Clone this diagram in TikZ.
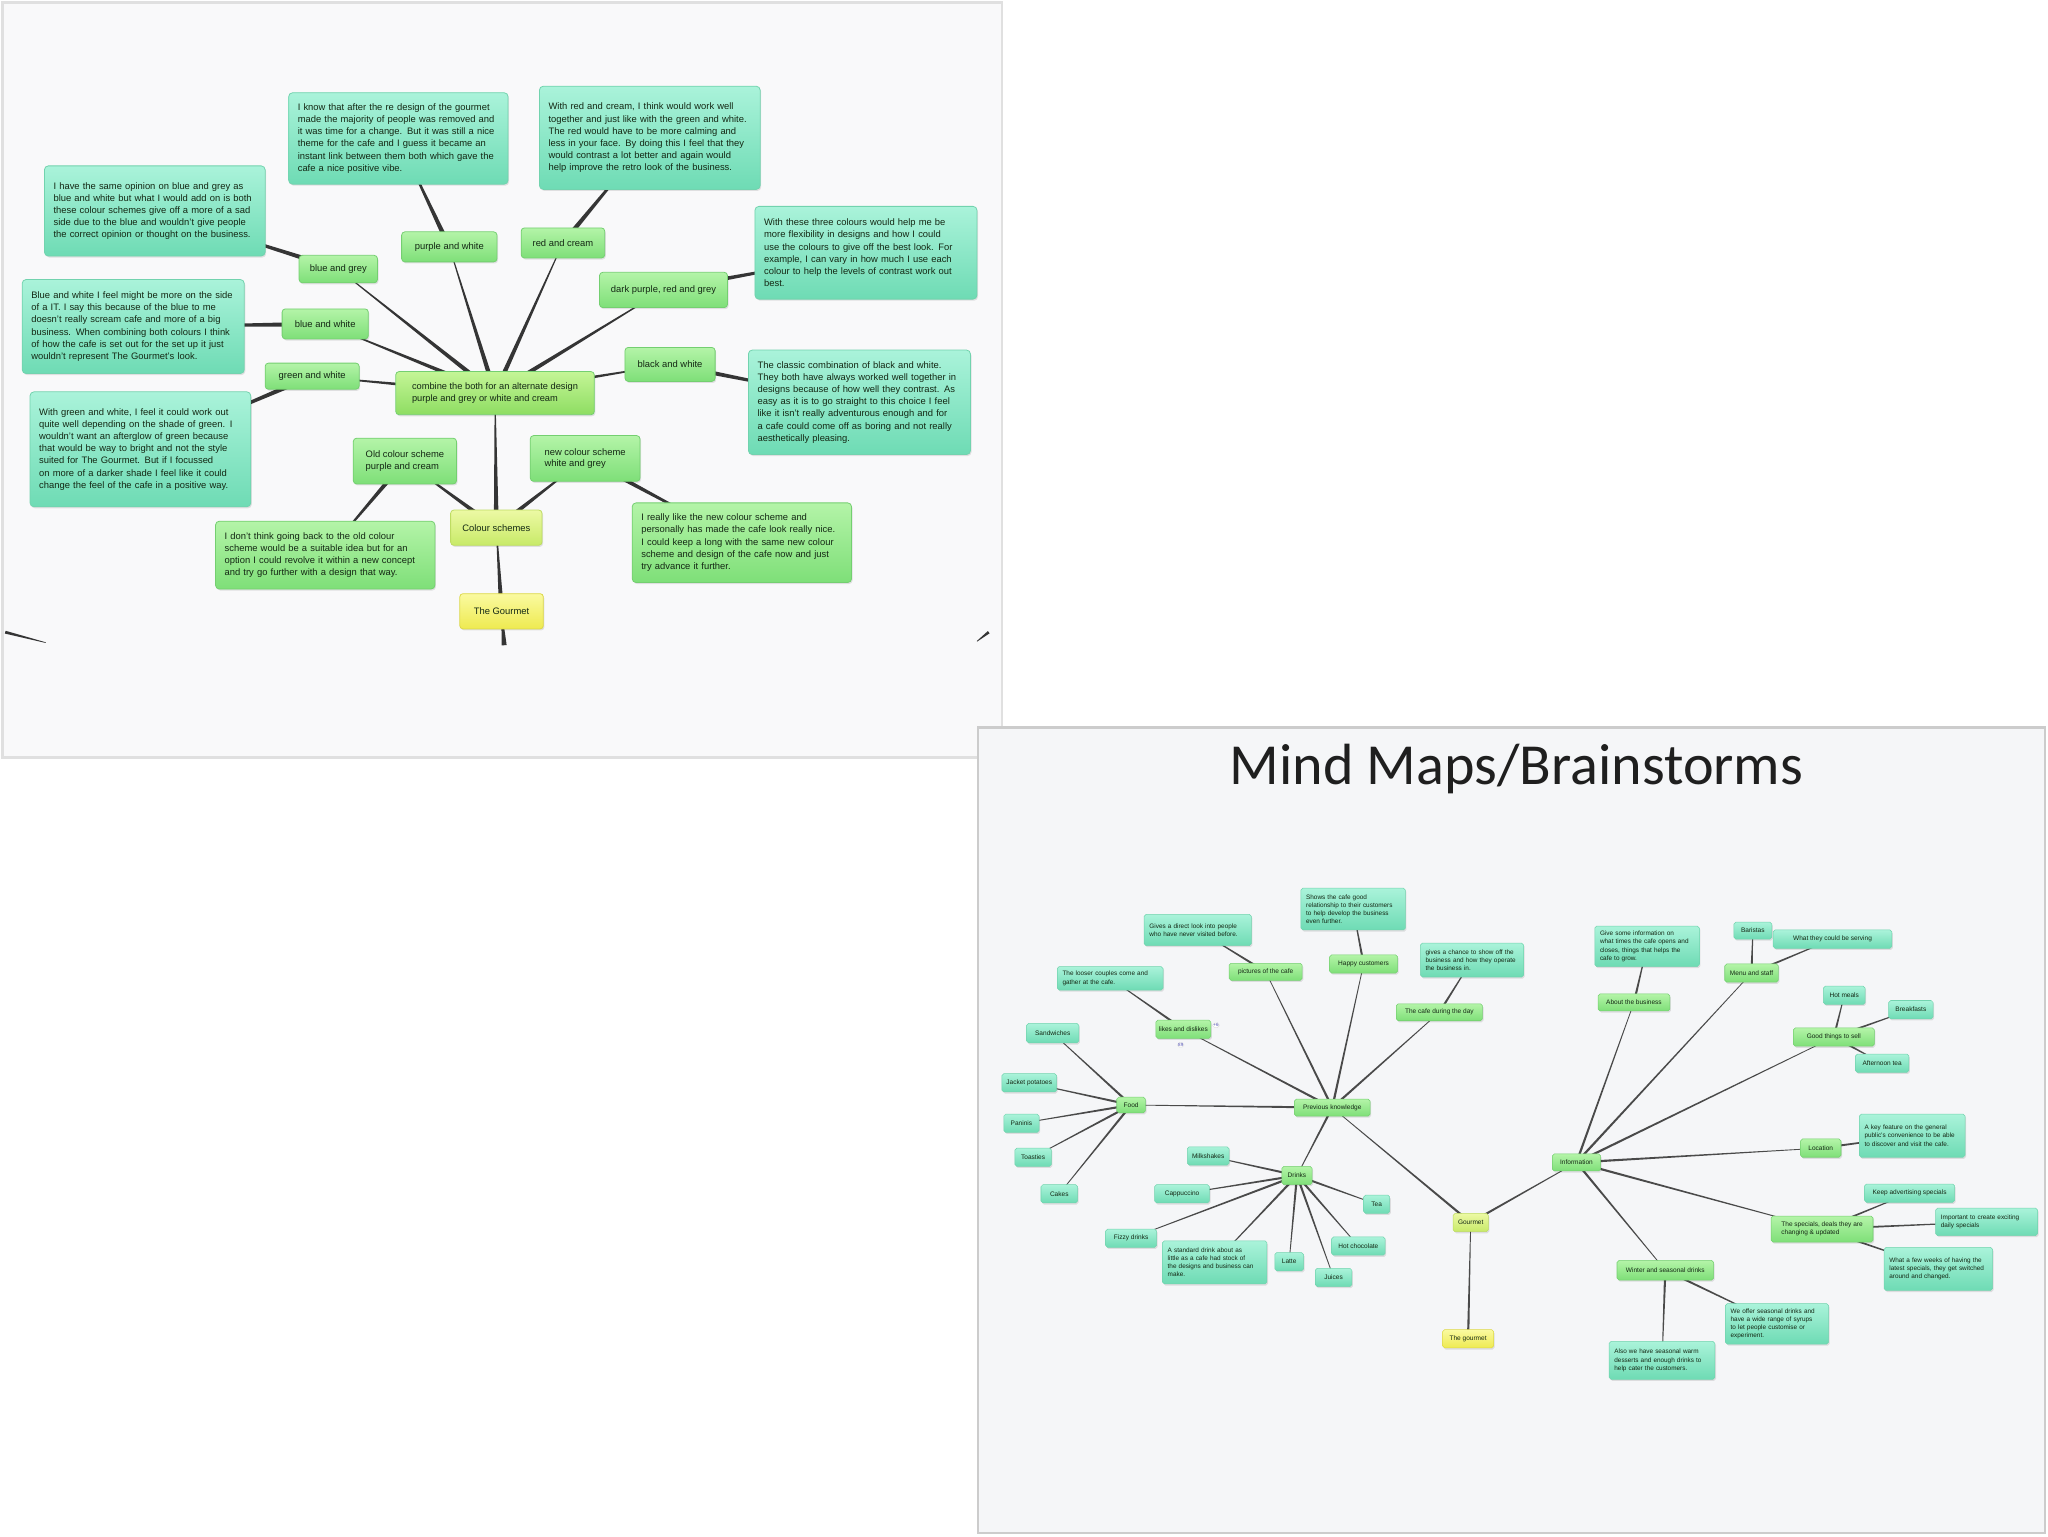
\documentclass[tikz,border=0pt]{standalone}
\usepackage{fontspec}
\setmainfont{Liberation Sans}
\newfontfamily\titlefont{Carlito}
\usetikzlibrary{calc,shadows}
\hyphenpenalty=10000
\exhyphenpenalty=10000
\pgfdeclarelayer{bg}\pgfdeclarelayer{edges}\pgfsetlayers{bg,edges,main}
\definecolor{gtop}{HTML}{B4F4A8}
\definecolor{gbot}{HTML}{7EDF78}
\definecolor{gbrd}{HTML}{74CF70}
\definecolor{ttop}{HTML}{AAF3DA}
\definecolor{tbot}{HTML}{6EDBB4}
\definecolor{tbrd}{HTML}{72D3AE}
\definecolor{ytop}{HTML}{FAFAA0}
\definecolor{ybot}{HTML}{EEEA50}
\definecolor{ybrd}{HTML}{DCD84A}
\definecolor{lgtop}{HTML}{ECF9A4}
\definecolor{lgbot}{HTML}{C8EA68}
\definecolor{lgbrd}{HTML}{BEDC62}
\definecolor{ctop}{HTML}{C4F596}
\definecolor{cbot}{HTML}{8EDD62}
\definecolor{edgecol}{HTML}{353535}
\definecolor{edgetwo}{HTML}{4A4A4A}
\definecolor{txtcol}{HTML}{142814}
\definecolor{pone}{HTML}{F9F9FA}
\definecolor{ptwo}{HTML}{F5F6F8}
\tikzset{
  boxbase/.style={rounded corners=2.5pt, line width=0.6pt, text=txtcol, inner sep=1pt,
    drop shadow={shadow xshift=0.8pt, shadow yshift=-1.2pt, fill=black, opacity=0.10}},
  gA/.style={boxbase, draw=gbrd, top color=gtop, bottom color=gbot, align=center, font=\fontsize{7.2}{8.8}\selectfont},
  cA/.style={boxbase, draw=gbrd, top color=ctop, bottom color=cbot, align=left, font=\fontsize{7.1}{9}\selectfont},
  lgA/.style={boxbase, draw=lgbrd, top color=lgtop, bottom color=lgbot, align=center, font=\fontsize{7.2}{8.8}\selectfont},
  yA/.style={boxbase, draw=ybrd, top color=ytop, bottom color=ybot, align=center, font=\fontsize{7.2}{8.8}\selectfont},
  tA/.style={boxbase, rounded corners=3pt, draw=tbrd, top color=ttop, bottom color=tbot, align=left, inner sep=0pt, font=\fontsize{7.2}{9.3}\selectfont},
  tgA/.style={boxbase, rounded corners=3pt, draw=gbrd, top color=gtop, bottom color=gbot, align=left, inner sep=0pt, font=\fontsize{7.2}{9.3}\selectfont},
  gB/.style={boxbase, rounded corners=1.5pt, line width=0.4pt, draw=gbrd, top color=gtop, bottom color=gbot, align=center, font=\fontsize{5}{6}\selectfont},
  lgB/.style={gB, draw=lgbrd, top color=lgtop, bottom color=lgbot},
  yB/.style={gB, draw=ybrd, top color=ytop, bottom color=ybot},
  cyB/.style={gB, draw=tbrd, top color=ttop, bottom color=tbot},
  tB/.style={boxbase, rounded corners=1.5pt, line width=0.4pt, draw=tbrd, top color=ttop, bottom color=tbot, align=left, inner sep=0pt, font=\fontsize{4.9}{6.2}\selectfont},
  bub/.style={rounded corners=1.5pt, draw=gray!25, fill=white, inner sep=0.5pt, font=\fontsize{3.5}{4}\selectfont, text=gray!60!blue},
}
% node macros
\newcommand\SN[6]{\node[#1, minimum width=#4pt, minimum height=#5pt] (#2) at (#3) {#6};}
\newcommand\TN[7]{\node[#1, minimum width=#4pt, minimum height=#5pt, text width=#6pt] (#2) at (#3) {#7};}
% tapered connector: colour, parent, child, half width
\newcommand\tp[4]{\fill[#1] ($(#2)!#4!90:(#3)$) -- ($(#2)!#4!-90:(#3)$) -- ($(#3)!0.25pt!90:(#2)$) -- ($(#3)!0.25pt!-90:(#2)$) -- cycle;}
\begin{document}
\begin{tikzpicture}[x=1pt,y=-1pt]
\useasboundingbox (0,0) rectangle (1568,1176);
\begin{pgfonlayer}{bg}
\fill[white] (0,0) rectangle (1568,1176);
\draw[draw=black!12, line width=2pt, fill=pone] (2,2) rectangle (767,580);
\draw[draw=black!20, line width=1.6pt, fill=ptwo] (749,557) rectangle (1566,1174);
\end{pgfonlayer}

% ================= panel 1 =================
\SN{cA}{c}{379,301}{152}{33}{combine the both for an alternate design\\purple and grey or white and cream}
\SN{gA}{bg}{259,206}{60}{21}{blue and grey}
\SN{gA}{pw}{344,189}{73}{23}{purple and white}
\SN{gA}{rc}{431,186}{64}{23}{red and cream}
\SN{gA}{dp}{508,222}{98}{27}{dark purple, red and grey}
\SN{gA}{bw}{249,248}{66}{23}{blue and white}
\SN{gA}{gw}{239,288}{72}{20}{green and white}
\SN{gA}{bk}{513,279}{69}{26}{black and white}
\node[gA, align=left, minimum width=79pt, minimum height=35pt] (old) at (310,353) {Old colour scheme\\purple and cream};
\node[gA, align=left, minimum width=84pt, minimum height=35pt] (new) at (448,351) {new colour scheme\\white and grey};
\SN{lgA}{cs}{380,404}{70}{27}{Colour schemes}
\SN{yA}{gm}{384,468}{64}{27}{The Gourmet}
\coordinate (gmdown) at (386,494);
\coordinate (fl1) at (4,484);
\coordinate (fl2) at (35,492);
\coordinate (fr1) at (757,484);
\coordinate (fr2) at (748,491);

\TN{tA}{t1}{118.5,161.5}{169}{69}{155}{I have the same opinion on blue and grey as blue and white but what I would add on is both these colour schemes give off a more of a sad side due to the blue and wouldn't give people the correct opinion or thought on the business.}
\TN{tA}{t2}{305,106}{168}{70}{154}{I know that after the re design of the gourmet made the majority of people was removed and it was time for a change. But it was still a nice theme for the cafe and I guess it became an instant link between them both which gave the cafe a nice positive vibe.}
\TN{tA}{t3}{497.5,105.5}{169}{79}{155}{With red and cream, I think would work well together and just like with the green and white. The red would have to be more calming and less in your face. By doing this I feel that they would contrast a lot better and again would help improve the retro look of the business.}
\TN{tA}{t4}{663,193.5}{170}{71}{156}{With these three colours would help me be more flexibility in designs and how I could use the colours to give off the best look. For example, I can vary in how much I use each colour to help the levels of contrast work out best.}
\TN{tA}{t5}{102,250}{170}{72}{156}{Blue and white I feel might be more on the side of a IT. I say this because of the blue to me doesn't really scream cafe and more of a big business. When combining both colours I think of how the cafe is set out for the set up it just wouldn't represent The Gourmet's look.}
\TN{tA}{t6}{107.5,344}{169}{88}{155}{With green and white, I feel it could work out quite well depending on the shade of green. I wouldn't want an afterglow of green because that would be way to bright and not the style suited for The Gourmet. But if I focussed on more of a darker shade I feel like it could change the feel of the cafe in a positive way.}
\TN{tA}{t7}{658,308}{170}{80}{156}{The classic combination of black and white. They both have always worked well together in designs because of how well they contrast. As easy as it is to go straight to this choice I feel like it isn't really adventurous enough and for a cafe could come off as boring and not really aesthetically pleasing.}
\TN{tgA}{t8}{249,425}{168}{52}{154}{I don't think going back to the old colour scheme would be a suitable idea but for an option I could revolve it within a new concept and try go further with a design that way.}
\TN{tgA}{t9}{568,415.5}{168}{61}{154}{I really like the new colour scheme and personally has made the cafe look really nice. I could keep a long with the same new colour scheme and design of the cafe now and just try advance it further.}

% ================= panel 2 =================
\node[font=\titlefont\fontsize{44.5}{50}\selectfont, text=black!88, anchor=base] (title) at (1161,601) {Mind Maps/Brainstorms};

\SN{lgB}{gt}{1126,936}{27}{14}{Gourmet}
\SN{yB}{tg}{1124,1025}{39}{14}{The gourmet}
\SN{gB}{pk}{1020,848}{58}{13}{Previous knowledge}
\SN{gB}{food}{866,846}{22}{12}{Food}
\SN{gB}{drinks}{993,900}{23}{14}{Drinks}
\SN{gB}{likes}{906,788}{42}{14}{likes and dislikes}
\SN{gB}{pics}{969,744}{56}{13}{pictures of the cafe}
\SN{gB}{happy}{1044,738}{52}{14}{Happy customers}
\SN{gB}{day}{1102,775}{66}{13}{The cafe during the day}
\node[bub] (b1) at (931,785) {+6};
\node[bub] (b2) at (904,800) {89};

\SN{cyB}{f1}{806,791}{40}{15}{Sandwiches}
\SN{cyB}{f2}{788,829}{42}{14}{Jacket potatoes}
\SN{cyB}{f3}{782,860}{27}{14}{Paninis}
\SN{cyB}{f4}{791,886}{28}{14}{Toasties}
\SN{cyB}{f5}{811,914}{28}{14}{Cakes}

\SN{cyB}{d1}{925,885}{32}{14}{Milkshakes}
\SN{cyB}{d2}{905,914}{42}{14}{Cappuccino}
\SN{cyB}{d3}{866,948}{39}{14}{Fizzy drinks}
\TN{tB}{d4}{930,966.5}{80}{33}{72}{A standard drink about as little as a cafe had stock of the designs and business can make.}
\SN{cyB}{d5}{987,966}{22}{14}{Latte}
\SN{cyB}{d6}{1021,978}{28}{14}{Juices}
\SN{cyB}{d7}{1040,954}{41}{14}{Hot chocolate}
\SN{cyB}{d8}{1054,922}{20}{14}{Tea}

\TN{tB}{lt}{850,749}{81}{18}{73}{The looser couples come and gather at the cafe.}
\TN{tB}{pt}{917,712}{82}{24}{74}{Gives a direct look into people who have never visited before.}
\TN{tB}{ht}{1036,696}{80}{32}{72}{Shows the cafe good relationship to their customers to help develop the business even further.}
\TN{tB}{dt}{1127,735}{79}{26}{71}{gives a chance to show off the business and how they operate the business in.}

\SN{gB}{info}{1207,890}{37}{13}{Information}
\SN{gB}{about}{1251,767.5}{55}{13}{About the business}
\TN{tB}{at}{1261,724.5}{80}{31}{72}{Give some information on what times the cafe opens and closes, things that helps the cafe to grow.}
\SN{gB}{staff}{1341,745}{41}{14}{Menu and staff}
\SN{cyB}{ex}{1342,712.5}{29}{13}{Baristas}
\SN{cyB}{wt}{1403,719}{91}{14}{What they could be serving}
\SN{gB}{good}{1404,794}{62}{14}{Good things to sell}
\SN{cyB}{art}{1412,762}{32}{14}{Hot meals}
\SN{cyB}{brk}{1463,773}{34}{14}{Breakfasts}
\SN{cyB}{aft}{1441,814}{41}{14}{Afternoon tea}
\SN{gB}{loc}{1394,879}{31}{14}{Location}
\TN{tB}{lt2}{1464,869.5}{81}{33}{73}{A key feature on the general public's convenience to be able to discover and visit the cafe.}
\node[gB, align=left, minimum width=78pt, minimum height=20pt] (spec) at (1395,941) {The specials, deals they are\\changing \& updated};
\SN{cyB}{ks}{1462,913.5}{69}{14}{Keep advertising specials}
\TN{tB}{imp}{1521,935.5}{78}{21}{70}{Important to create exciting daily specials}
\TN{tB}{wf}{1484,971.5}{83}{33}{75}{What a few weeks of having the latest specials, they get switched around and changed.}
\SN{gB}{sd}{1275,972.5}{74}{15}{Winter and seasonal drinks}
\TN{tB}{sd1}{1360.5,1013.5}{79}{31}{71}{We offer seasonal drinks and have a wide range of syrups to let people customise or experiment.}
\TN{tB}{sd2}{1272.5,1041.5}{81}{29}{73}{Also we have seasonal warm desserts and enough drinks to help cater the customers.}

% ================= connectors =================
\begin{pgfonlayer}{edges}
% panel 1
\foreach \a/\b in {gmdown/gm, gm/cs, cs/c, cs/old, cs/new, old/t8, new/t9,
  c/bg, c/pw, c/rc, c/dp, c/bw, c/gw, c/bk,
  bg/t1, pw/t2, rc/t3, dp/t4, bw/t5, gw/t6, bk/t7}
  {\tp{edgecol}{\a}{\b}{1.9pt}}
\foreach \a/\b in {fl1/fl2, fr1/fr2}
  {\tp{edgecol}{\a}{\b}{1.1pt}}
% panel 2
\foreach \a/\b in {tg/gt, gt/pk, gt/info,
  pk/food, pk/drinks, pk/likes, pk/pics, pk/happy, pk/day,
  food/f1, food/f2, food/f3, food/f4, food/f5,
  drinks/d1, drinks/d2, drinks/d3, drinks/d4, drinks/d5, drinks/d6, drinks/d7, drinks/d8,
  likes/lt, pics/pt, happy/ht, day/dt,
  info/about, info/staff, info/good, info/loc, info/spec, info/sd,
  about/at, staff/ex, staff/wt, good/art, good/brk, good/aft, loc/lt2,
  spec/ks, spec/imp, spec/wf, sd/sd1, sd/sd2}
  {\tp{edgetwo}{\a}{\b}{0.9pt}}
\end{pgfonlayer}
\end{tikzpicture}
\end{document}
